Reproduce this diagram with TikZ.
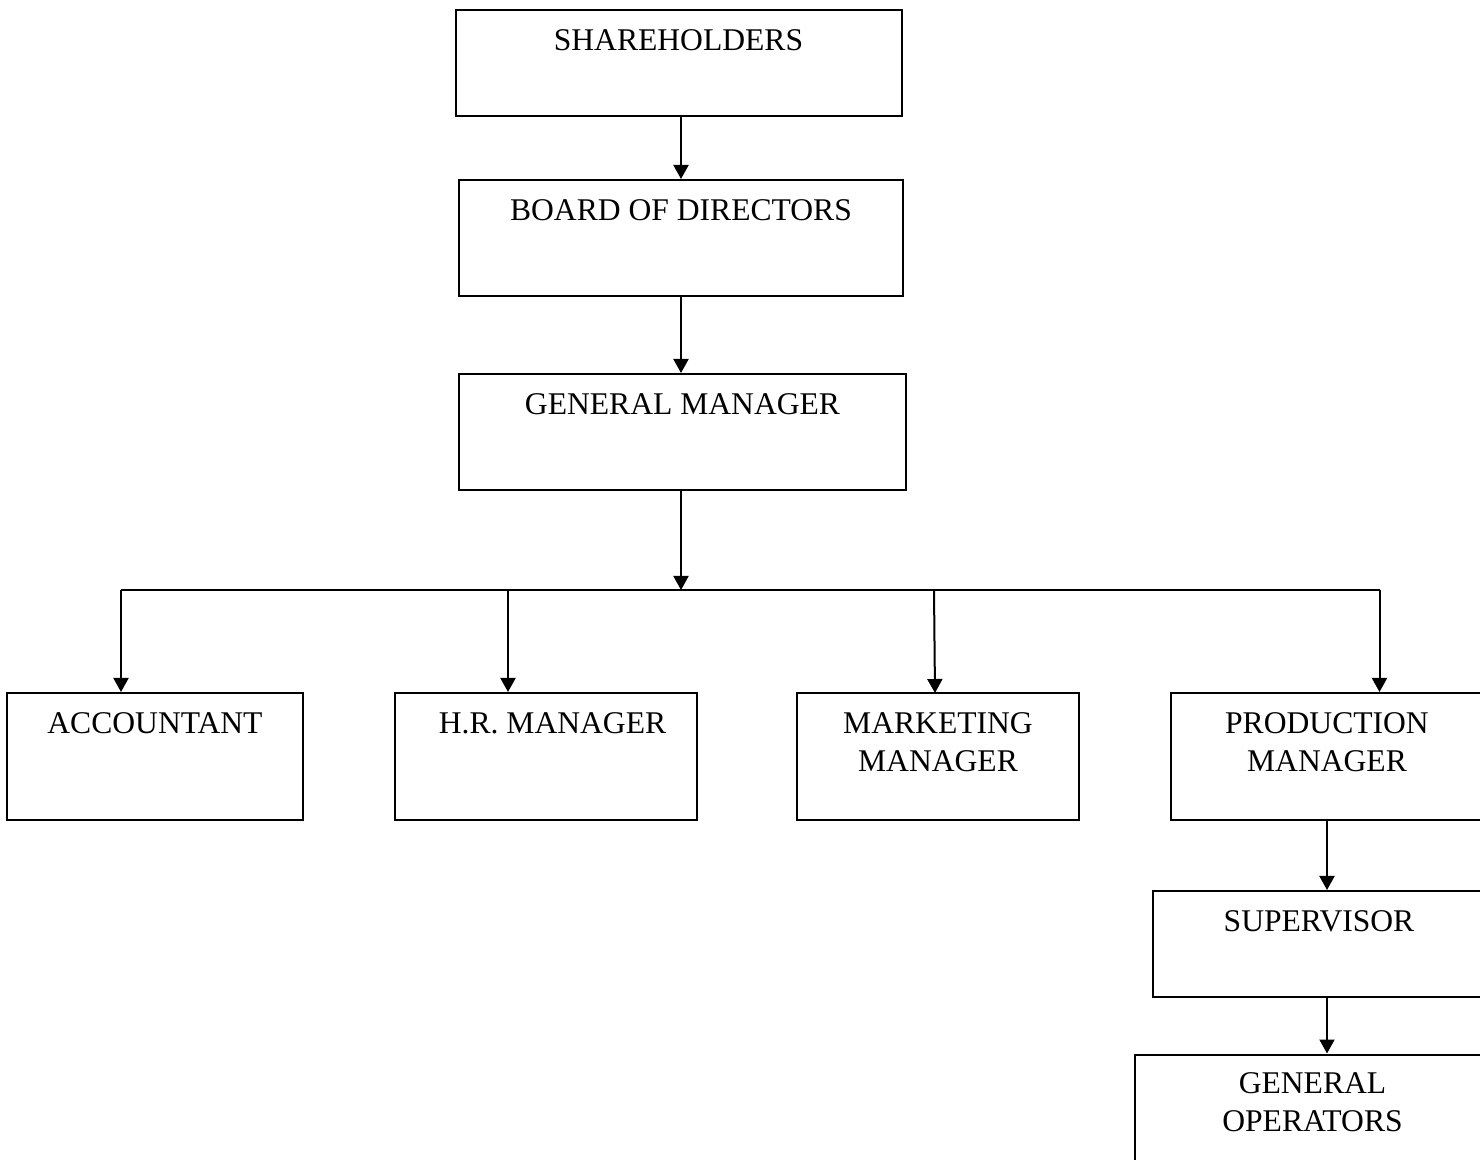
\documentclass[tikz,border=0pt]{standalone}
\usepackage{fontspec}
\setmainfont{Liberation Serif}
\usetikzlibrary{arrows.meta,positioning}

\begin{document}
\begin{tikzpicture}[x=0.5pt, y=-0.5pt, line width=1pt,
    arr/.style={-{Triangle[width=7.5pt,length=7pt]}},
    box/.style={draw, inner sep=0pt},
    lbl/.style={anchor=north, yshift=-10pt, inner sep=0pt, align=center,
      font=\fontsize{15.8pt}{19pt}\selectfont}]
    \clip (0,0) rectangle (1480,1160);

    % top of the chart
    \node[box, minimum width=223pt, minimum height=53pt, label={[lbl]north:SHAREHOLDERS}] (share) at (678.5, 63) {};
    \node[box, minimum width=222pt, minimum height=58pt, label={[lbl]north:BOARD OF DIRECTORS}] (board) at (681, 238) {};
    \node[box, minimum width=223.5pt, minimum height=58pt, label={[lbl]north:GENERAL MANAGER}] (gm) at (682.5, 432) {};

    % departments
    \node[box, minimum width=148pt, minimum height=63.5pt, label={[lbl]north:ACCOUNTANT}] (acc) at (155, 756.5) {};
    \node[box, minimum width=151pt, minimum height=63.5pt, label={[lbl, xshift=3.25pt]north:H.R. MANAGER}] (hr) at (546, 756.5) {};
    \node[box, minimum width=141pt, minimum height=63.5pt, label={[lbl]north:MARKETING\\MANAGER}] (mkt) at (938, 756.5) {};
    \node[box, minimum width=156pt, minimum height=63.5pt, label={[lbl]north:PRODUCTION\\MANAGER}] (prod) at (1327, 756.5) {};

    % production line
    \node[box, minimum width=166pt, minimum height=53pt, label={[lbl]north:SUPERVISOR}] (sup) at (1319, 944) {};
    \node[box, minimum width=177.5pt, minimum height=62.5pt, label={[lbl, yshift=1pt]north:GENERAL\\OPERATORS}] (ops) at (1312.5, 1117) {};

    % bus line
    \coordinate (bus) at (681, 590);
    \coordinate (dAcc) at (121, 590);
    \coordinate (dHr) at (508, 590);
    \coordinate (dMkt) at (934, 590);
    \coordinate (dProd) at (1379.5, 590);

    \draw[arr] (board.north |- share.south) -- (board.north);
    \draw[arr] (bus |- board.south) -- (bus |- gm.north);
    \draw[arr] (bus |- gm.south) -- (bus);
    \draw (dAcc) -- (dProd);
    \draw[arr] (dAcc) -- (dAcc |- acc.north);
    \draw[arr] (dHr) -- (dHr |- hr.north);
    \draw[arr] (dMkt) -- (935, 693);
    \draw[arr] (dProd) -- (dProd |- prod.north);
    \draw[arr] (prod.south) -- (prod.south |- sup.north);
    \draw[arr] (sup.south -| prod.south) -- (ops.north -| prod.south);
\end{tikzpicture}
\end{document}
